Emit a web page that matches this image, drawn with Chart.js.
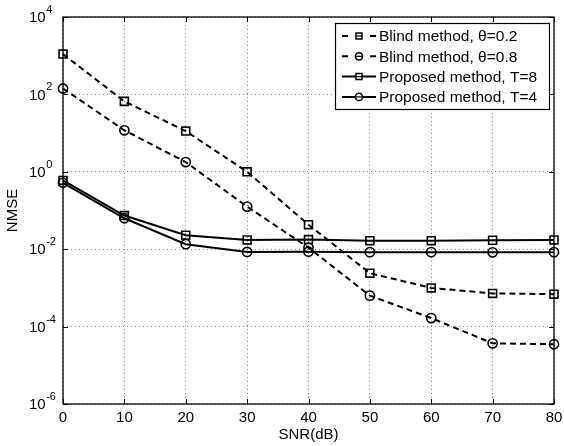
<!DOCTYPE html>
<html>
<head>
<meta charset="utf-8">
<script src="https://cdn.jsdelivr.net/npm/chart.js@4"></script>
<style>
  html, body { margin: 0; padding: 0; background: #fff; }
  #wrap { width: 564px; height: 446px; }
</style>
</head>
<body>
<div id="wrap"><canvas id="nmseChart" width="564" height="446"></canvas></div>
<script>
// SNR (dB) on the x axis
const snr = [0, 10, 20, 30, 40, 50, 60, 70, 80];

// NMSE per method
const blind02 = [1100, 66, 11.3, 1.0, 0.043, 0.0024, 0.001, 0.00072, 0.00069];
const blind08 = [142, 11.8, 1.78, 0.126, 0.011, 0.00063, 0.000166, 0.000037, 0.000035];
const propT8 = [0.6, 0.074, 0.023, 0.0174, 0.0177, 0.0166, 0.0166, 0.0170, 0.0174];
const propT4 = [0.52, 0.063, 0.0135, 0.0085, 0.0086, 0.0084, 0.0084, 0.0083, 0.0084];

const seriesLabels = [
    'Blind method, \u03b8=0.2',
    'Blind method, \u03b8=0.8',
    'Proposed method, T=8',
    'Proposed method, T=4'
];

// tick labels
const xTicks = [0, 10, 20, 30, 40, 50, 60, 70, 80];
const yTicks = [1e-6, 1e-4, 1e-2, 1, 1e2, 1e4];
const xTitle = 'SNR(dB)';
const yTitle = 'NMSE';

const FONT = '"Liberation Sans", Arial, Helvetica, sans-serif';

function toPoints(vals) {
    return snr.map((x, i) => ({ x: x, y: vals[i] }));
}

function makeSet(label, vals, dashed, shape) {
    return {
        label: label,
        data: toPoints(vals),
        borderColor: '#000',
        borderWidth: 2,
        borderDash: dashed ? [6, 4] : [],
        pointStyle: shape,
        pointRadius: shape === 'rect' ? 5.6 : 4.6,
        pointBorderWidth: 1.6,
        pointBorderColor: '#000',
        pointBackgroundColor: 'rgba(255,255,255,0)',
        tension: 0,
        fill: false,
        clip: false
    };
}

// draws the MATLAB-like frame, inward ticks, tick labels, axis titles and legend
const matlabFrame = {
    id: 'matlabFrame',
    afterDraw(chart) {
        const ctx = chart.ctx;
        const a = chart.chartArea;
        const xs = chart.scales.x;
        const ys = chart.scales.y;
        ctx.save();

        // frame
        ctx.strokeStyle = '#000';
        ctx.lineWidth = 1.3;
        ctx.setLineDash([]);
        ctx.strokeRect(a.left, a.top, a.right - a.left, a.bottom - a.top);

        // inward ticks
        ctx.lineWidth = 1;
        ctx.beginPath();
        xTicks.forEach(v => {
            const px = Math.round(xs.getPixelForValue(v)) + 0.5;
            ctx.moveTo(px, a.bottom); ctx.lineTo(px, a.bottom - 5);
            ctx.moveTo(px, a.top); ctx.lineTo(px, a.top + 5);
        });
        yTicks.forEach(v => {
            const py = Math.round(ys.getPixelForValue(v)) + 0.5;
            ctx.moveTo(a.left, py); ctx.lineTo(a.left + 5, py);
            ctx.moveTo(a.right, py); ctx.lineTo(a.right - 5, py);
        });
        ctx.stroke();

        // x tick labels
        ctx.fillStyle = '#000';
        ctx.font = '15px ' + FONT;
        ctx.textAlign = 'center';
        ctx.textBaseline = 'middle';
        xTicks.forEach(v => {
            ctx.fillText(String(v), xs.getPixelForValue(v), 418);
        });

        // y tick labels, 10 with superscript exponent
        yTicks.forEach(v => {
            const py = ys.getPixelForValue(v);
            const exp = Math.round(Math.log10(v));
            ctx.font = '15px ' + FONT;
            ctx.textAlign = 'left';
            ctx.textBaseline = 'middle';
            ctx.fillText('10', 29, py + 1);
            const w = ctx.measureText('10').width;
            ctx.font = '11px ' + FONT;
            ctx.fillText(String(exp), 29 + w + 0.5, py - 7);
        });

        // axis titles
        ctx.font = '15px ' + FONT;
        ctx.textAlign = 'center';
        ctx.textBaseline = 'middle';
        ctx.fillText(xTitle, (a.left + a.right) / 2, 435);
        ctx.save();
        ctx.translate(13, (a.top + a.bottom) / 2);
        ctx.rotate(-Math.PI / 2);
        ctx.fillText(yTitle, 0, 0);
        ctx.restore();

        // legend
        const lx = 335, ly = 23, lw = 214, lh = 86;
        ctx.fillStyle = '#fff';
        ctx.fillRect(lx, ly, lw, lh);
        ctx.strokeStyle = '#000';
        ctx.lineWidth = 1.2;
        ctx.strokeRect(lx + 0.5, ly + 0.5, lw, lh);

        chart.data.datasets.forEach((ds, i) => {
            const cy = 36 + i * 20.3;
            const dashed = ds.borderDash.length > 0;
            ctx.strokeStyle = '#000';
            ctx.lineWidth = 2;
            ctx.setLineDash([]);
            ctx.beginPath();
            if (dashed) {
                ctx.moveTo(342, cy); ctx.lineTo(348, cy);
                ctx.moveTo(370, cy); ctx.lineTo(376, cy);
            } else {
                ctx.moveTo(342, cy); ctx.lineTo(376, cy);
            }
            ctx.stroke();
            // marker
            ctx.lineWidth = 1.5;
            ctx.fillStyle = '#fff';
            ctx.beginPath();
            if (ds.pointStyle === 'rect') {
                ctx.rect(356, cy - 3, 6, 6);
            } else {
                ctx.arc(359, cy, 3.6, 0, Math.PI * 2);
            }
            ctx.fill();
            ctx.stroke();
            // marker centre bar, as in the reference legend
            ctx.lineWidth = 1.2;
            ctx.beginPath();
            ctx.moveTo(356, cy); ctx.lineTo(362, cy);
            ctx.stroke();

            ctx.fillStyle = '#000';
            ctx.font = '15.5px ' + FONT;
            ctx.textAlign = 'left';
            ctx.textBaseline = 'middle';
            ctx.fillText(ds.label, 379, cy + 1);
        });

        ctx.restore();
    }
};

const gridStyle = {
    color: 'rgba(0,0,0,0.45)',
    lineWidth: 1,
    drawTicks: false
};

new Chart(document.getElementById('nmseChart').getContext('2d'), {
    type: 'line',
    data: {
        datasets: [
            makeSet(seriesLabels[0], blind02, true, 'rect'),
            makeSet(seriesLabels[1], blind08, true, 'circle'),
            makeSet(seriesLabels[2], propT8, false, 'rect'),
            makeSet(seriesLabels[3], propT4, false, 'circle')
        ]
    },
    options: {
        responsive: false,
        animation: false,
        events: [],
        layout: { padding: { left: 63, top: 17, right: 10, bottom: 42 } },
        plugins: {
            legend: { display: false },
            tooltip: { enabled: false }
        },
        scales: {
            x: {
                type: 'linear',
                min: 0,
                max: 80,
                afterBuildTicks: s => { s.ticks = xTicks.map(v => ({ value: v })); },
                ticks: { display: false },
                grid: gridStyle,
                border: { display: false, dash: [1, 3] },
                title: { display: false }
            },
            y: {
                type: 'logarithmic',
                min: 1e-6,
                max: 1e4,
                afterBuildTicks: s => { s.ticks = yTicks.map(v => ({ value: v })); },
                ticks: { display: false },
                grid: gridStyle,
                border: { display: false, dash: [1, 3] },
                title: { display: false }
            }
        }
    },
    plugins: [matlabFrame]
});
</script>
</body>
</html>
